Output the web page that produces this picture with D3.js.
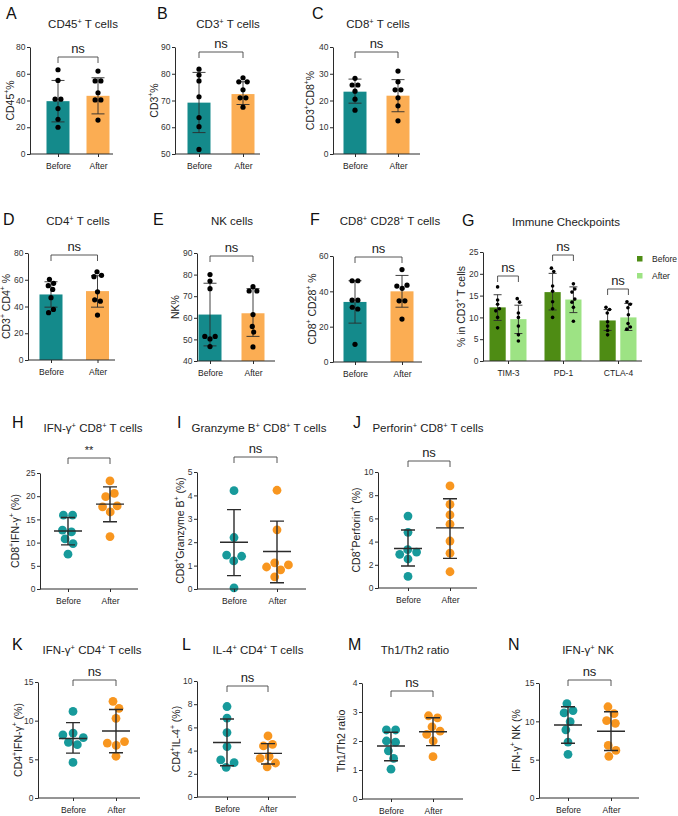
<!DOCTYPE html>
<html>
<head>
<meta charset="utf-8">
<script src="https://cdn.jsdelivr.net/npm/d3@7"></script>
<style>
  body { margin: 0; background: #fff; }
  svg { display: block; font-family: "Liberation Sans", Arial, sans-serif; }
</style>
</head>
<body>
<div id="chart"></div>
<script>
const groups = ["Before", "After"];

// ---- bar panels (A-F): bar = mean, err = SD, dots = patients
const cd45Bar = [39.5, 43.5];
const cd45Err = [[24, 55], [30, 57]];
const cd45Before = [63, 55, 41, 41, 34, 26, 20];
const cd45After = [62, 54.6, 54.6, 45.8, 40.4, 40.4, 25.4];

const cd3Bar = [69.2, 72.4];
const cd3Err = [[58, 80.5], [68.5, 77]];
const cd3Before = [81.7, 79.5, 77.3, 71.4, 63.6, 60.2, 51.7];
const cd3After = [78.5, 77, 77, 74, 71, 71, 67.5];

const cd8Bar = [23.3, 21.8];
const cd8Err = [[19, 28], [15.8, 27.8]];
const cd8Before = [28.3, 25.8, 25.8, 23.5, 20.5, 16.4];
const cd8After = [31, 27, 24, 24, 21, 18, 12.4];

const cd4Bar = [49, 51.5];
const cd4Err = [[39.5, 58.5], [39.5, 63]];
const cd4Before = [60.3, 57.3, 55.6, 52.8, 46.6, 37.8, 35.4];
const cd4After = [66, 63.3, 62.3, 51, 45, 44, 33.6];

const nkBar = [61.5, 62.1];
const nkErr = [[47, 76], [51.4, 73.5]];
const nkBefore = [80, 77, 73.5, 51.4, 51.4, 50.2, 46.7];
const nkAfter = [74.4, 72.4, 72.4, 61.5, 56, 53.4, 46.5];

const cd28Bar = [34, 40];
const cd28Err = [[22, 46], [31, 49]];
const cd28Before = [46, 46, 35, 35, 31, 30, 10];
const cd28After = [52.3, 43.5, 43, 41.7, 34.6, 34.6, 24.3];

// ---- G: immune checkpoints
const gCats = ["TIM-3", "PD-1", "CTLA-4"];
const gBarBefore = [12.3, 15.8, 9.3];
const gBarAfter = [9.6, 14.1, 10.0];
const gErrBefore = [[9.3, 15.2], [11.7, 20.1], [7.0, 11.8]];
const gErrAfter = [[6.3, 12.8], [11.1, 17.0], [7.0, 13.2]];
const gDotsBefore = [[17, 14, 13, 12, 11.5, 10, 7.6], [21.3, 20.5, 17.2, 16, 13.6, 12, 10], [12.3, 11.8, 11, 9, 8, 7, 6]];
const gDotsAfter = [[14.3, 13.5, 11, 10, 8, 6, 4.6], [17.7, 16.5, 15.8, 14.2, 13.5, 12.3, 9.1], [13.6, 13, 12.2, 10.6, 8.6, 7.8, 7.3]];

// ---- scatter panels (H-N): mean line, SD whiskers
const ifngCd8Mean = [12.5, 18.3];
const ifngCd8Sd = [[9.5, 15.4], [14.5, 22]];
const ifngCd8Before = [15.9, 15.9, 12.7, 12.3, 10.8, 9.8, 7.5];
const ifngCd8After = [23.3, 20.6, 19.9, 17.9, 17.7, 16.6, 11.3];

const gzmbMean = [2.0, 1.6];
const gzmbSd = [[0.57, 3.39], [0.27, 2.9]];
const gzmbBefore = [4.2, 2.2, 1.45, 1.4, 1.2, 0.05];
const gzmbAfter = [4.22, 2.53, 1.12, 1.03, 0.94, 0.82, 0.52];

const prfMean = [3.4, 5.18];
const prfSd = [[1.9, 5.0], [2.55, 7.7]];
const prfBefore = [6.2, 4.8, 3.3, 3.1, 2.9, 2.5, 1.0];
const prfAfter = [8.8, 7.2, 6.3, 5.5, 4.05, 3.0, 1.4];

const ifngCd4Mean = [7.7, 8.67];
const ifngCd4Sd = [[5.8, 9.75], [5.85, 11.45]];
const ifngCd4Before = [11.2, 8.4, 8.15, 7.8, 7.2, 6.9, 4.6];
const ifngCd4After = [12.5, 11.6, 10.3, 7.3, 7.1, 6.8, 5.4];

const il4Mean = [4.7, 3.76];
const il4Sd = [[2.7, 6.72], [2.84, 4.6]];
const il4Before = [7.8, 6.8, 5.55, 4.35, 3.2, 2.96, 2.56];
const il4After = [5.26, 4.54, 4.4, 3.5, 3.33, 2.93, 2.6];

const thMean = [1.83, 2.32];
const thSd = [[1.32, 2.3], [1.84, 2.8]];
const thBefore = [2.38, 2.38, 2.0, 1.96, 1.66, 1.4, 1.03];
const thAfter = [2.87, 2.8, 2.49, 2.34, 2.23, 2.0, 1.46];

const ifngNkMean = [9.53, 8.7];
const ifngNkSd = [[7.15, 11.9], [6.2, 11.25]];
const ifngNkBefore = [12.3, 11.4, 11.1, 9.96, 8.9, 7.3, 5.7];
const ifngNkAfter = [11.9, 11.0, 10.1, 9.74, 6.86, 6.2, 5.43];

const teal = "#148a8b", orange = "#fbad53";
const tealDot = "#179a9b", orangeDot = "#f8961f";
const darkGreen = "#4e8c14", lightGreen = "#9de384";
const ink = "#2b2b2b";

const svg = d3.select("#chart").append("svg")
  .attr("width", 678).attr("height", 816);

// text with ^{...} superscripts
function rich(sel, s) {
  s.split(/(\^\{[^}]*\})/).filter(Boolean).forEach(part => {
    if (part.startsWith("^{")) {
      sel.append("tspan").attr("baseline-shift", "super").attr("font-size", "65%").text(part.slice(2, -1));
    } else {
      sel.append("tspan").text(part);
    }
  });
  return sel;
}

function swarm(values, cx, y, r) {
  const nodes = values.map((v, i) => ({ v, fy: y(v), x: cx + (i % 2 ? 1 : -1) * (i + 1) * 0.4 }));
  d3.forceSimulation(nodes)
    .force("x", d3.forceX(cx).strength(0.08))
    .force("c", d3.forceCollide(r))
    .stop()
    .tick(250);
  return nodes;
}

function frame(p) {
  const g = svg.append("g");
  const y = d3.scaleLinear().domain(p.dom).range([p.bot, p.top]);

  g.append("text").attr("x", p.lx).attr("y", p.ly).attr("font-size", 16).attr("fill", "#111").text(p.letter);
  rich(g.append("text").attr("x", p.tx).attr("y", p.ty).attr("text-anchor", "middle")
    .attr("font-size", 11.5).attr("fill", "#222"), p.title);

  const ya = g.append("g").attr("transform", `translate(${p.ax},0)`)
    .call(d3.axisLeft(y).tickValues(d3.range(p.dom[0], p.dom[1] + 1e-9, p.step))
      .tickFormat(d3.format("d")).tickSize(3).tickSizeOuter(0).tickPadding(1.5));
  ya.selectAll("text").attr("font-size", 8.5).attr("fill", "#333").attr("font-family", null);
  ya.selectAll("line,path").attr("stroke", ink);

  rich(g.append("text")
    .attr("transform", `translate(${p.yl},${(p.top + p.bot) / 2}) rotate(-90)`)
    .attr("text-anchor", "middle").attr("dominant-baseline", "middle")
    .attr("font-size", 10.5).attr("fill", "#222"), p.ylab);
  return { g, y };
}

function xAxis(g, p, x) {
  const xa = g.append("g").attr("transform", `translate(0,${p.bot})`)
    .call(d3.axisBottom(x).tickSize(3).tickSizeOuter(0).tickPadding(5.5));
  xa.select(".domain").attr("d", `M${p.ax},0H${p.end}`);
  xa.selectAll("text").attr("font-size", 8.5).attr("fill", "#222").attr("font-family", null);
  xa.selectAll("line,path").attr("stroke", ink);
}

function bracket(g, x1, x2, by, sig) {
  g.append("path").attr("d", `M${x1},${by + 6}V${by}H${x2}V${by + 6}`)
    .attr("fill", "none").attr("stroke", "#444").attr("stroke-width", 0.9);
  g.append("text").attr("x", (x1 + x2) / 2).attr("y", by - 4).attr("text-anchor", "middle")
    .attr("font-size", sig === "ns" ? 13 : 11).attr("fill", "#222").text(sig);
}

function barPanel(p) {
  const { g, y } = frame(p);
  const x = d3.scalePoint().domain(groups).range(p.cx);
  const bw = 23;
  groups.forEach((grp, i) => {
    const cx = x(grp);
    g.append("rect").attr("x", cx - bw / 2).attr("y", y(p.bars[i])).attr("width", bw)
      .attr("height", y(p.dom[0]) - y(p.bars[i])).attr("fill", i ? orange : teal);
    const [lo, hi] = p.err[i];
    g.append("path").attr("d", `M${cx},${y(lo)}V${y(hi)}M${cx - 6.5},${y(lo)}H${cx + 6.5}M${cx - 6.5},${y(hi)}H${cx + 6.5}`)
      .attr("stroke", ink).attr("stroke-width", 0.9).attr("fill", "none");
    g.selectAll(null).data(swarm(p.dots[i], cx, y, 2.9)).join("circle")
      .attr("cx", d => d.x).attr("cy", d => d.fy).attr("r", 2.6).attr("fill", "#000");
  });
  xAxis(g, p, x);
  bracket(g, p.cx[0], p.cx[1], p.br, "ns");
}

function dotPanel(p) {
  const { g, y } = frame(p);
  const x = d3.scalePoint().domain(groups).range(p.cx);
  groups.forEach((grp, i) => {
    const cx = x(grp);
    g.selectAll(null).data(swarm(p.dots[i], cx, y, 4.6)).join("circle")
      .attr("cx", d => d.x).attr("cy", d => d.fy).attr("r", 4.4).attr("fill", i ? orangeDot : tealDot);
    const [lo, hi] = p.sd[i];
    const m = p.mean[i];
    g.append("path").attr("d",
      `M${cx},${y(lo)}V${y(hi)}M${cx - 7},${y(lo)}H${cx + 7}M${cx - 7},${y(hi)}H${cx + 7}M${cx - 14},${y(m)}H${cx + 14}`)
      .attr("stroke", ink).attr("stroke-width", 1.4).attr("fill", "none");
  });
  xAxis(g, p, x);
  bracket(g, p.cx[0], p.cx[1], p.br, p.sig || "ns");
}

// ---- layout
const barPanels = [
  { letter: "A", title: "CD45^{+} T cells", ylab: "CD45^{+}%", ax: 30, top: 47, bot: 154, end: 113, cx: [58, 98],
    dom: [0, 80], step: 20, br: 57, tx: 83, ty: 28, lx: 6, ly: 19, yl: 11, bars: cd45Bar, err: cd45Err, dots: [cd45Before, cd45After] },
  { letter: "B", title: "CD3^{+} T cells", ylab: "CD3^{+}%", ax: 175, top: 47, bot: 154, end: 260, cx: [199, 243],
    dom: [50, 90], step: 10, br: 52, tx: 228, ty: 28, lx: 157, ly: 19, yl: 155, bars: cd3Bar, err: cd3Err, dots: [cd3Before, cd3After] },
  { letter: "C", title: "CD8^{+} T cells", ylab: "CD3^{+}CD8^{+}%", ax: 333, top: 47, bot: 154, end: 420, cx: [355, 398],
    dom: [0, 40], step: 10, br: 52, tx: 378, ty: 28, lx: 312, ly: 19, yl: 311, bars: cd8Bar, err: cd8Err, dots: [cd8Before, cd8After] },
  { letter: "D", title: "CD4^{+} T cells", ylab: "CD3^{+} CD4^{+} %", ax: 28, top: 253, bot: 360, end: 115, cx: [51, 97.5],
    dom: [0, 80], step: 20, br: 255, tx: 78, ty: 225, lx: 3, ly: 225, yl: 7, bars: cd4Bar, err: cd4Err, dots: [cd4Before, cd4After] },
  { letter: "E", title: "NK  cells", ylab: "NK%", ax: 197, top: 253, bot: 361, end: 275, cx: [210, 253],
    dom: [40, 90], step: 10, br: 256, tx: 232, ty: 225, lx: 153, ly: 225, yl: 176, bars: nkBar, err: nkErr, dots: [nkBefore, nkAfter] },
  { letter: "F", title: "CD8^{+} CD28^{+} T cells", ylab: "CD8^{+} CD28^{+} %", ax: 333, top: 256, bot: 362, end: 422, cx: [355, 402],
    dom: [0, 60], step: 20, br: 257, tx: 390, ty: 225, lx: 310, ly: 225, yl: 313, bars: cd28Bar, err: cd28Err, dots: [cd28Before, cd28After] }
];

const dotPanels = [
  { letter: "H", title: "IFN-γ^{+} CD8^{+} T cells", ylab: "CD8^{+}IFN-γ^{+} (%)", ax: 40, top: 473, bot: 589, end: 138, cx: [68, 110],
    dom: [0, 25], step: 5, br: 458, sig: "**", tx: 93, ty: 432, lx: 12, ly: 428, yl: 16, mean: ifngCd8Mean, sd: ifngCd8Sd, dots: [ifngCd8Before, ifngCd8After] },
  { letter: "I", title: "Granzyme B^{+} CD8^{+} T cells", ylab: "CD8^{+}Granzyme B^{+} (%)", ax: 197, top: 472, bot: 589, end: 306, cx: [234, 277],
    dom: [0, 5], step: 1, br: 457, tx: 259, ty: 432, lx: 177, ly: 428, yl: 181, mean: gzmbMean, sd: gzmbSd, dots: [gzmbBefore, gzmbAfter] },
  { letter: "J", title: "Perforin^{+} CD8^{+} T cells", ylab: "CD8^{+}Perforin^{+} (%)", ax: 378, top: 472, bot: 588, end: 477, cx: [408, 450],
    dom: [0, 10], step: 2, br: 461, tx: 428, ty: 432, lx: 353, ly: 428, yl: 357, mean: prfMean, sd: prfSd, dots: [prfBefore, prfAfter] },
  { letter: "K", title: "IFN-γ^{+} CD4^{+} T cells", ylab: "CD4^{+}IFN-γ^{+} (%)", ax: 38, top: 682, bot: 798, end: 140, cx: [73, 116],
    dom: [0, 15], step: 5, br: 680, tx: 92, ty: 654, lx: 12, ly: 650, yl: 19, mean: ifngCd4Mean, sd: ifngCd4Sd, dots: [ifngCd4Before, ifngCd4After] },
  { letter: "L", title: "IL-4^{+} CD4^{+} T cells", ylab: "CD4^{+}IL-4^{+} (%)", ax: 197, top: 681, bot: 797, end: 296, cx: [227, 268],
    dom: [0, 10], step: 2, br: 686, tx: 258, ty: 654, lx: 182, ly: 650, yl: 177, mean: il4Mean, sd: il4Sd, dots: [il4Before, il4After] },
  { letter: "M", title: "Th1/Th2 ratio", ylab: "Th1/Th2 ratio", ax: 362, top: 683, bot: 799, end: 463, cx: [391, 433],
    dom: [0, 4], step: 1, br: 691, tx: 415, ty: 654, lx: 348, ly: 650, yl: 342, mean: thMean, sd: thSd, dots: [thBefore, thAfter] },
  { letter: "N", title: "IFN-γ^{+} NK", ylab: "IFN-γ^{+} NK (%", ax: 539, top: 683, bot: 798, end: 639, cx: [568, 611],
    dom: [0, 15], step: 5, br: 680, tx: 588, ty: 654, lx: 508, ly: 650, yl: 517, mean: ifngNkMean, sd: ifngNkSd, dots: [ifngNkBefore, ifngNkAfter] }
];

barPanels.forEach(barPanel);
dotPanels.forEach(dotPanel);

// ---- G: grouped bars
(function () {
  const p = { letter: "G", title: "Immune Checkpoints", ylab: "% in CD3^{+} T cells", ax: 483, top: 252, bot: 361, end: 642,
    dom: [0, 25], step: 5, tx: 566, ty: 226, lx: 462, ly: 226, yl: 462 };
  const bracketY = [276, 255, 289];
  const { g, y } = frame(p);
  const x = d3.scalePoint().domain(gCats).range([508, 618]);
  const sub = d3.scaleBand().domain(groups).range([-18.5, 18.5]).paddingInner(0.22);
  const bars = [gBarBefore, gBarAfter], errs = [gErrBefore, gErrAfter], dots = [gDotsBefore, gDotsAfter];

  gCats.forEach((cat, c) => {
    groups.forEach((grp, i) => {
      const x0 = x(cat) + sub(grp), cx = x0 + sub.bandwidth() / 2;
      g.append("rect").attr("x", x0).attr("y", y(bars[i][c])).attr("width", sub.bandwidth())
        .attr("height", y(0) - y(bars[i][c])).attr("fill", i ? lightGreen : darkGreen);
      const [lo, hi] = errs[i][c];
      g.append("path").attr("d", `M${cx},${y(lo)}V${y(hi)}M${cx - 4},${y(lo)}H${cx + 4}M${cx - 4},${y(hi)}H${cx + 4}`)
        .attr("stroke", ink).attr("stroke-width", 0.9).attr("fill", "none");
      g.selectAll(null).data(swarm(dots[i][c], cx, y, 2.1)).join("circle")
        .attr("cx", d => d.x).attr("cy", d => d.fy).attr("r", 1.8).attr("fill", "#000");
    });
    const c1 = x(cat) + sub("Before") + sub.bandwidth() / 2, c2 = x(cat) + sub("After") + sub.bandwidth() / 2;
    bracket(g, c1, c2, bracketY[c], "ns");
  });
  xAxis(g, { ax: p.ax, end: p.end, bot: p.bot }, x);

  const leg = g.append("g");
  groups.forEach((grp, i) => {
    leg.append("rect").attr("x", 637).attr("y", 256 + i * 17).attr("width", 5.5).attr("height", 5.5)
      .attr("fill", i ? lightGreen : darkGreen);
    leg.append("text").attr("x", 652).attr("y", 262 + i * 17).attr("font-size", 8.5).attr("fill", "#222").text(grp);
  });
})();
</script>
</body>
</html>
